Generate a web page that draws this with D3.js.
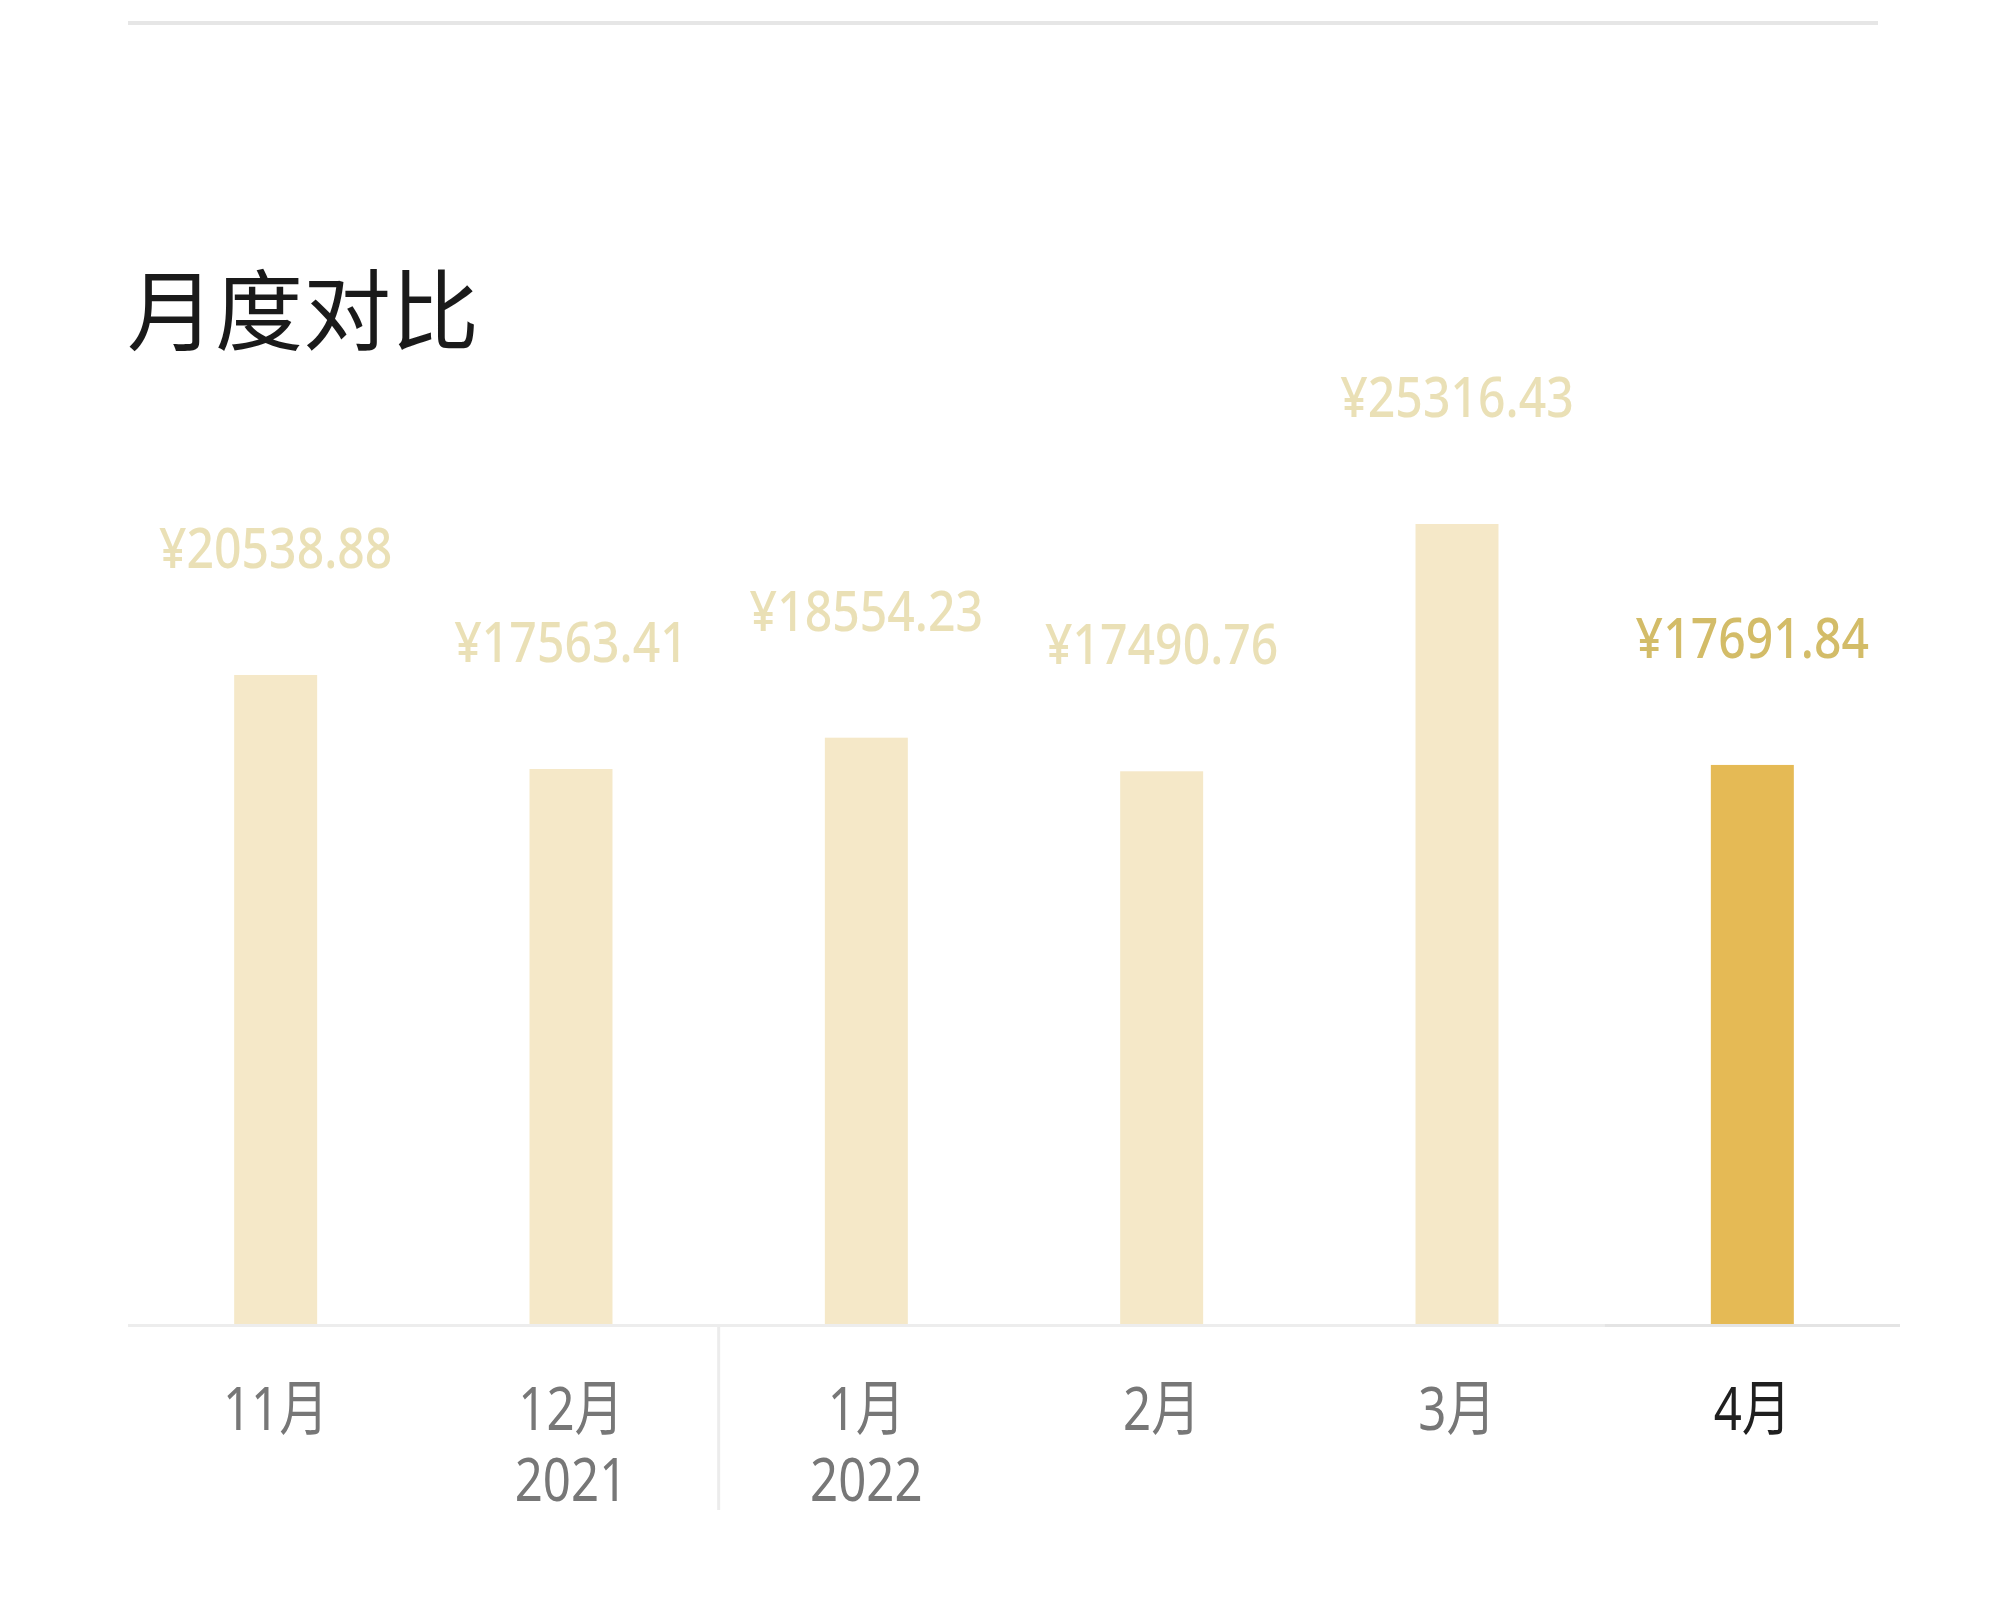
<!DOCTYPE html>
<html>
<head>
<meta charset="utf-8">
<script src="https://cdn.jsdelivr.net/npm/d3@7"></script>
<style>
  html, body { margin: 0; padding: 0; background: #ffffff; }
  svg { display: block; }
</style>
</head>
<body>
<svg id="chart" width="2006" height="1600"></svg>
<script>
const title = "月度对比";
const months = ["11月", "12月", "1月", "2月", "3月", "4月"];
const years = ["", "2021", "2022", "", "", ""];
const amounts = [20538.88, 17563.41, 18554.23, 17490.76, 25316.43, 17691.84];
const highlightIndex = 5;

const svg = d3.select("#chart");
const sans = "'Noto Sans', 'Noto Sans CJK SC', sans-serif";
const cjk = "'Noto Sans CJK SC', 'Noto Sans', sans-serif";

const x = d3.scaleBand().domain(months).range([128, 1900]).paddingInner(0.719).paddingOuter(0.3595);
const baseY = 1324;
const y = d3.scaleLinear().domain([0, 30000]).range([baseY, baseY - 948]);

const data = months.map((m, i) => ({ m, v: amounts[i], yr: years[i], hi: i === highlightIndex }));
const cx = d => x(d.m) + x.bandwidth() / 2;

// top divider
svg.append("line").attr("x1", 128).attr("x2", 1878).attr("y1", 23).attr("y2", 23)
  .attr("stroke", "#e6e6e6").attr("stroke-width", 4);

// title
svg.append("text").attr("x", 127).attr("y", 343)
  .attr("font-family", cjk).attr("font-size", 88).attr("font-weight", 400)
  .attr("fill", "#1a1a1a").text(title);

// bars
svg.append("g").selectAll("rect").data(data).join("rect")
  .attr("x", d => x(d.m))
  .attr("width", x.bandwidth())
  .attr("y", d => y(d.v))
  .attr("height", d => y(0) - y(d.v))
  .attr("fill", d => d.hi ? "#E5BA55" : "#F5E8C8");

// axis line
svg.append("line").attr("x1", 128).attr("x2", 1900).attr("y1", baseY + 1.5).attr("y2", baseY + 1.5)
  .attr("stroke", "#ededed").attr("stroke-width", 3);
svg.append("line").attr("x1", x("4月") - 106).attr("x2", 1900).attr("y1", baseY + 1.5).attr("y2", baseY + 1.5)
  .attr("stroke", "#e4e4e4").attr("stroke-width", 3);

// value labels (condensed)
svg.append("g").selectAll("text").data(data).join("text")
  .attr("transform", d => `translate(${cx(d)},${y(d.v) - 107}) scale(0.86,1)`)
  .attr("text-anchor", "middle")
  .attr("font-family", sans).attr("font-size", 56).attr("font-weight", 500)
  .attr("fill", d => d.hi ? "#D3BC68" : "#EAE0B6")
  .text(d => "¥" + d3.format(".2f")(d.v));

// month labels
svg.append("g").selectAll("text").data(data).join("text")
  .attr("transform", d => `translate(${cx(d)},1430) scale(0.82,1)`)
  .attr("text-anchor", "middle")
  .attr("font-family", sans).attr("font-size", 60)
  .attr("fill", d => d.hi ? "#1f1f1f" : "#777777")
  .text(d => d.m);

// year labels
svg.append("g").selectAll("text").data(data.filter(d => d.yr)).join("text")
  .attr("transform", d => `translate(${cx(d)},1501) scale(0.82,1)`)
  .attr("text-anchor", "middle")
  .attr("font-family", sans).attr("font-size", 60)
  .attr("fill", "#777777")
  .text(d => d.yr);

// year separator between 12月 and 1月
const sepX = (x("12月") + x("1月") + x.bandwidth()) / 2;
svg.append("line").attr("x1", sepX).attr("x2", sepX).attr("y1", baseY + 3).attr("y2", 1510)
  .attr("stroke", "#ececec").attr("stroke-width", 3);
</script>
</body>
</html>
